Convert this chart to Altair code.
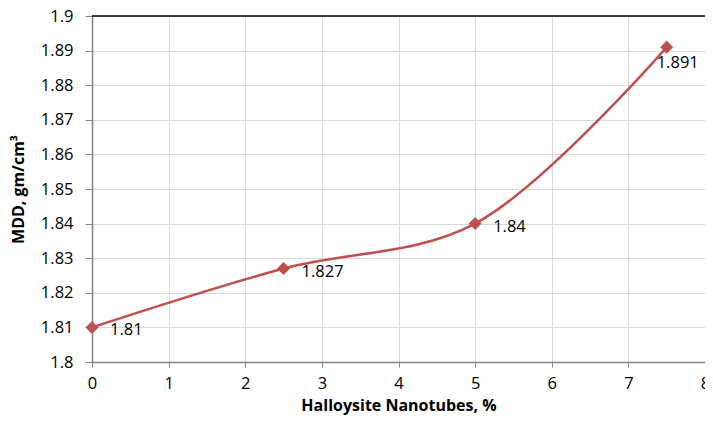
import altair as alt
import pandas as pd

hnt = [0, 2.5, 5, 7.5]
mdd = [1.81, 1.827, 1.84, 1.891]
labels = ["1.81", "1.827", "1.84", "1.891"]
y_ticks = [1.8, 1.81, 1.82, 1.83, 1.84, 1.85, 1.86, 1.87, 1.88, 1.89, 1.9]
x_ticks = [0, 1, 2, 3, 4, 5, 6, 7, 8]

df = pd.DataFrame({"hnt": hnt, "mdd": mdd, "label": labels})

FONT = "Open Sans"
RED = "#C0504D"

x = alt.X("hnt:Q", title="Halloysite Nanotubes, %",
          scale=alt.Scale(domain=[0, 8], nice=False),
          axis=alt.Axis(values=x_ticks, format="d", tickSize=5, labelPadding=8,
                        labelFlush=False, labelOverlap=False, titlePadding=6))
y = alt.Y("mdd:Q", title="MDD, gm/cm³",
          scale=alt.Scale(domain=[1.8, 1.9], nice=False, zero=False),
          axis=alt.Axis(values=y_ticks,
                        labelExpr="format(datum.value, '.3~f')",
                        labelFlush=False, labelOverlap=False,
                        tickSize=7, labelPadding=12, titlePadding=14))

base = alt.Chart(df)

top = alt.Chart(pd.DataFrame({"mdd": [1.9]})).mark_rule(color="#000000", strokeWidth=1.5).encode(y=y)
line = base.mark_line(color=RED, strokeWidth=2.5, interpolate="catmull-rom").encode(x=x, y=y)
pts = base.mark_point(shape="diamond", filled=True, size=170, color=RED, opacity=1).encode(x=x, y=y)

txt_main = base.transform_filter("datum.hnt < 7").mark_text(
    align="left", baseline="middle", dx=18, dy=3, fontSize=16.5, font=FONT, color="#000000"
).encode(x=x, y=y, text="label:N")
txt_last = base.transform_filter("datum.hnt > 7").mark_text(
    align="left", baseline="middle", dx=-10, dy=16, fontSize=16.5, font=FONT, color="#000000"
).encode(x=x, y=y, text="label:N")

chart = alt.layer(top, line, pts, txt_main, txt_last).properties(
    width=613, height=346,
    padding={"left": 84, "top": 8, "right": 0, "bottom": 55},
    autosize=alt.AutoSizeParams(type="none"),
).configure_view(stroke=None).configure_axis(
    labelFont=FONT, labelFontSize=16.5, labelColor="#000000",
    titleFont=FONT, titleFontSize=16, titleFontWeight="bold", titleColor="#000000",
    gridColor="#D9D9D9", gridWidth=1, domainColor="#868686", domainWidth=1.5,
    tickColor="#868686", tickWidth=1,
)

chart.save("out.html", embed_options={"renderer": "svg", "actions": False})
